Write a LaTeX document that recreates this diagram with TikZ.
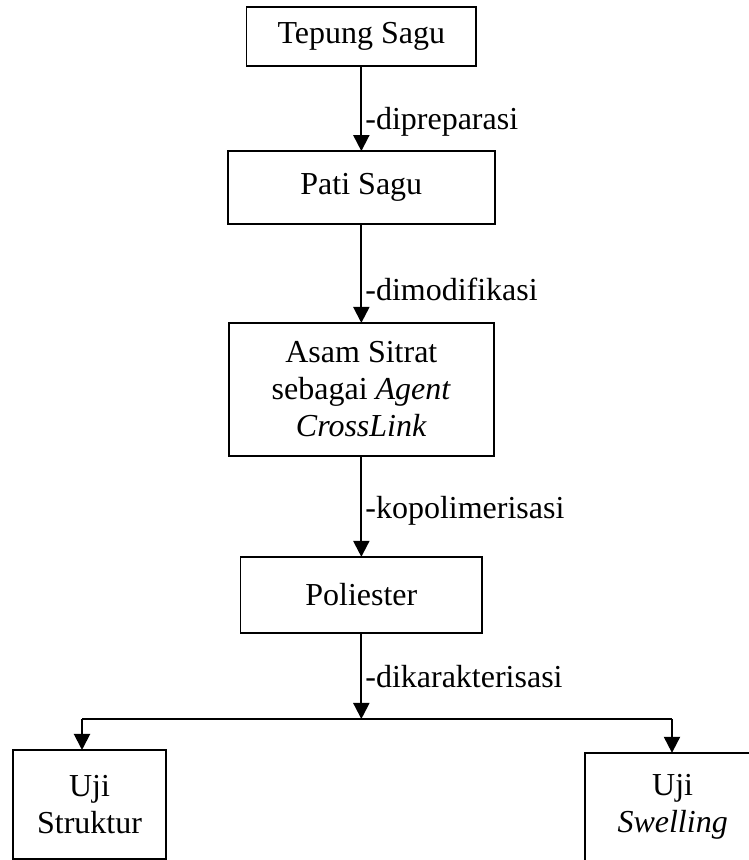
\documentclass[tikz,border=0pt]{standalone}
\usepackage{fontspec}
\setmainfont{Liberation Serif}
\usetikzlibrary{arrows.meta}

\begin{document}
\begin{tikzpicture}[scale=1,
    kotak/.style={draw, line width=0.8pt, align=center, inner sep=0pt, outer sep=0pt,
      font=\fontsize{16}{18.5}\selectfont},
    panah/.style={line width=1pt, -{Triangle[length=8pt,width=8pt]}},
    ket/.style={right, inner sep=1.5pt, font=\fontsize{16}{18.5}\selectfont}]

    \useasboundingbox (0, 0) rectangle (13.162, -15.113);

    % Kotak utama
    \node[kotak, minimum width=4.04cm, minimum height=1.04cm] (tepung) at (6.35, -0.641) {Tepung Sagu};
    \node[kotak, minimum width=4.69cm, minimum height=1.28cm] (pati) at (6.35, -3.295) {Pati Sagu};
    \node[kotak, minimum width=4.66cm, minimum height=2.34cm] (asam) at (6.35, -6.845)
      {Asam Sitrat\\sebagai \textit{Agent}\\\textit{CrossLink}};
    \node[kotak, minimum width=4.25cm, minimum height=1.34cm] (poli) at (6.35, -10.456) {Poliester};

    % Kotak uji (kanan terpotong di tepi)
    \node[kotak, minimum width=2.69cm, minimum height=1.915cm] (struktur) at (1.573, -14.137) {Uji\\Struktur};
    \node[kotak, minimum width=3.08cm, minimum height=1.90cm] (swelling) at (11.82, -14.18) {Uji\\\textit{Swelling}};

    % Titik cabang
    \coordinate (kiri) at (1.441, -12.635);
    \coordinate (kanan) at (11.809, -12.635);
    \coordinate (tengah) at (poli.south |- kiri);

    % Panah
    \draw[panah] (tepung) -- (pati) node[ket, pos=0.65] {-dipreparasi};
    \draw[panah] (pati) -- (asam) node[ket, pos=0.66] {-dimodifikasi};
    \draw[panah] (asam) -- (poli) node[ket, pos=0.54] {-kopolimerisasi};
    \draw[panah] (poli) -- (tengah) node[ket, pos=0.5] {-dikarakterisasi};

    % Cabang
    \draw[line width=1pt] (kiri) -- (kanan);
    \draw[panah] (kiri) -- (kiri |- struktur.north);
    \draw[panah] (kanan) -- (kanan |- swelling.north);

\end{tikzpicture}
\end{document}
